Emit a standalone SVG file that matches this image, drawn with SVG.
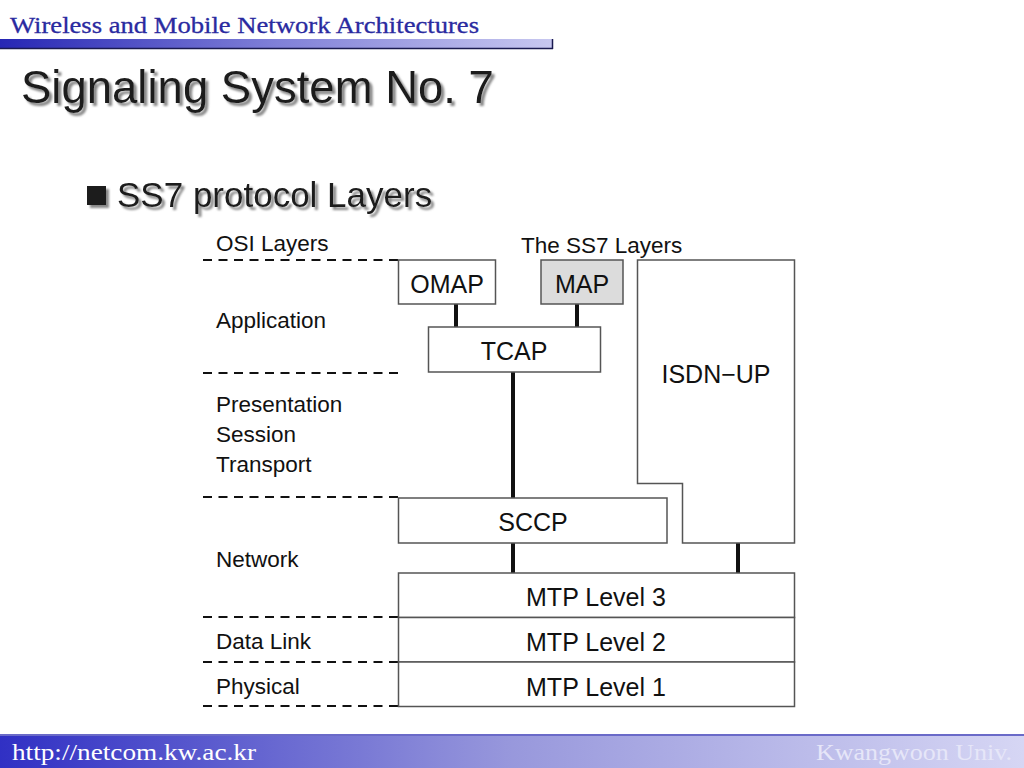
<svg xmlns="http://www.w3.org/2000/svg" width="1024" height="768" viewBox="0 0 1024 768">
<defs>
<linearGradient id="hdr" x1="0" y1="0" x2="1" y2="0">
<stop offset="0" stop-color="#2626b4"/>
<stop offset="0.5" stop-color="#8080d8"/>
<stop offset="1" stop-color="#c8c8f0"/>
</linearGradient>
<linearGradient id="ftr" x1="0" y1="0" x2="1" y2="0">
<stop offset="0" stop-color="#3030c4"/>
<stop offset="0.5" stop-color="#9898dc"/>
<stop offset="1" stop-color="#d6d6f4"/>
</linearGradient>
<filter id="sh" x="-5%" y="-20%" width="110%" height="150%">
<feGaussianBlur in="SourceAlpha" stdDeviation="1.2"/>
<feOffset dx="2.5" dy="2.5" result="b"/>
<feFlood flood-color="#888888"/>
<feComposite in2="b" operator="in"/>
<feMerge><feMergeNode/><feMergeNode in="SourceGraphic"/></feMerge>
</filter>
</defs>
<style>
.box{fill:#ffffff;stroke:#555555;stroke-width:1.5}
.lbl{font-family:"Liberation Sans",Arial,sans-serif;font-size:22.5px;fill:#111111}
.bt{font-family:"Liberation Sans",Arial,sans-serif;font-size:25px;fill:#111111;text-anchor:middle}
.dash{stroke:#111111;stroke-width:2.2;stroke-dasharray:9 6.5;fill:none}
.con{stroke:#111111;stroke-width:4;fill:none}
</style>
<rect width="1024" height="768" fill="#ffffff"/>
<g id="header">
<text x="10" y="33" font-family="Liberation Serif,'Times New Roman',serif" font-size="24" fill="#2a2aa0" stroke="#2a2aa0" stroke-width="0.3" textLength="469" lengthAdjust="spacingAndGlyphs">Wireless and Mobile Network Architectures</text>
<rect x="0" y="39" width="553" height="10" fill="url(#hdr)"/>
<line x1="0" y1="48.5" x2="553" y2="48.5" stroke="#1a1a50" stroke-width="1.5"/>
<line x1="552.5" y1="39" x2="552.5" y2="49" stroke="#1a1a50" stroke-width="1.5"/>
</g>
<g id="title" filter="url(#sh)">
<text x="21" y="103" font-family="Liberation Sans,Arial,sans-serif" font-size="45.5" fill="#1a1a1a">Signaling System No. 7</text>
</g>
<g id="bullet" filter="url(#sh)">
<rect x="87" y="186" width="19" height="19" fill="#1a1a1a"/>
<text x="117" y="207" font-family="Liberation Sans,Arial,sans-serif" font-size="35" fill="#1a1a1a">SS7 protocol Layers</text>
</g>
<g id="osi-lines">
<line class="dash" x1="203" y1="260" x2="398" y2="260"/>
<line class="dash" x1="203" y1="373" x2="398" y2="373"/>
<line class="dash" x1="203" y1="497" x2="398" y2="497"/>
<line class="dash" x1="203" y1="617" x2="398" y2="617"/>
<line class="dash" x1="203" y1="662" x2="398" y2="662"/>
<line class="dash" x1="203" y1="706" x2="398" y2="706"/>
</g>
<g id="osi-labels">
<text class="lbl" x="216" y="251">OSI Layers</text>
<text class="lbl" x="521" y="253">The SS7 Layers</text>
<text class="lbl" x="216" y="328">Application</text>
<text class="lbl" x="216" y="412">Presentation</text>
<text class="lbl" x="216" y="442">Session</text>
<text class="lbl" x="216" y="472">Transport</text>
<text class="lbl" x="216" y="567">Network</text>
<text class="lbl" x="216" y="649">Data Link</text>
<text class="lbl" x="216" y="694">Physical</text>
</g>
<g id="connectors">
<line class="con" x1="456" y1="304" x2="456" y2="327"/>
<line class="con" x1="577" y1="304" x2="577" y2="327"/>
<line class="con" x1="513" y1="372" x2="513" y2="498"/>
<line class="con" x1="513" y1="543" x2="513" y2="573"/>
<line class="con" x1="738" y1="543" x2="738" y2="573"/>
</g>
<g id="omap"><rect class="box" x="398.5" y="260" width="97" height="44"/><text class="bt" x="447" y="293">OMAP</text></g>
<g id="map"><rect x="541" y="260" width="82" height="44" fill="#dcdcdc" stroke="#555555" stroke-width="1.5"/><text class="bt" x="582" y="293">MAP</text></g>
<g id="tcap"><rect class="box" x="428.5" y="327" width="172" height="45"/><text class="bt" x="514" y="360">TCAP</text></g>
<g id="isdn-up"><path class="box" d="M637.5,260 H794.5 V543 H682.5 V483.5 H637.5 Z"/><text class="bt" x="716" y="383">ISDN−UP</text></g>
<g id="sccp"><rect class="box" x="398.5" y="498" width="268.5" height="45"/><text class="bt" x="533" y="531">SCCP</text></g>
<g id="mtp3"><rect class="box" x="398.5" y="573" width="396" height="44.5"/><text class="bt" x="596" y="606">MTP Level 3</text></g>
<g id="mtp2"><rect class="box" x="398.5" y="617.5" width="396" height="44.5"/><text class="bt" x="596" y="651">MTP Level 2</text></g>
<g id="mtp1"><rect class="box" x="398.5" y="662" width="396" height="44.5"/><text class="bt" x="596" y="696">MTP Level 1</text></g>
<g id="footer">
<rect x="0" y="734" width="1024" height="34" fill="url(#ftr)"/>
<line x1="0" y1="735" x2="1024" y2="735" stroke="#6a6ac8" stroke-width="2"/>
<text x="12" y="760" font-family="Liberation Serif,'Times New Roman',serif" font-size="24" fill="#ffffff" textLength="244" lengthAdjust="spacingAndGlyphs">http://netcom.kw.ac.kr</text>
<text x="1012" y="760" font-family="Liberation Serif,'Times New Roman',serif" font-size="24" fill="#e6e6f8" text-anchor="end" textLength="196" lengthAdjust="spacingAndGlyphs">Kwangwoon Univ.</text>
</g>
</svg>
